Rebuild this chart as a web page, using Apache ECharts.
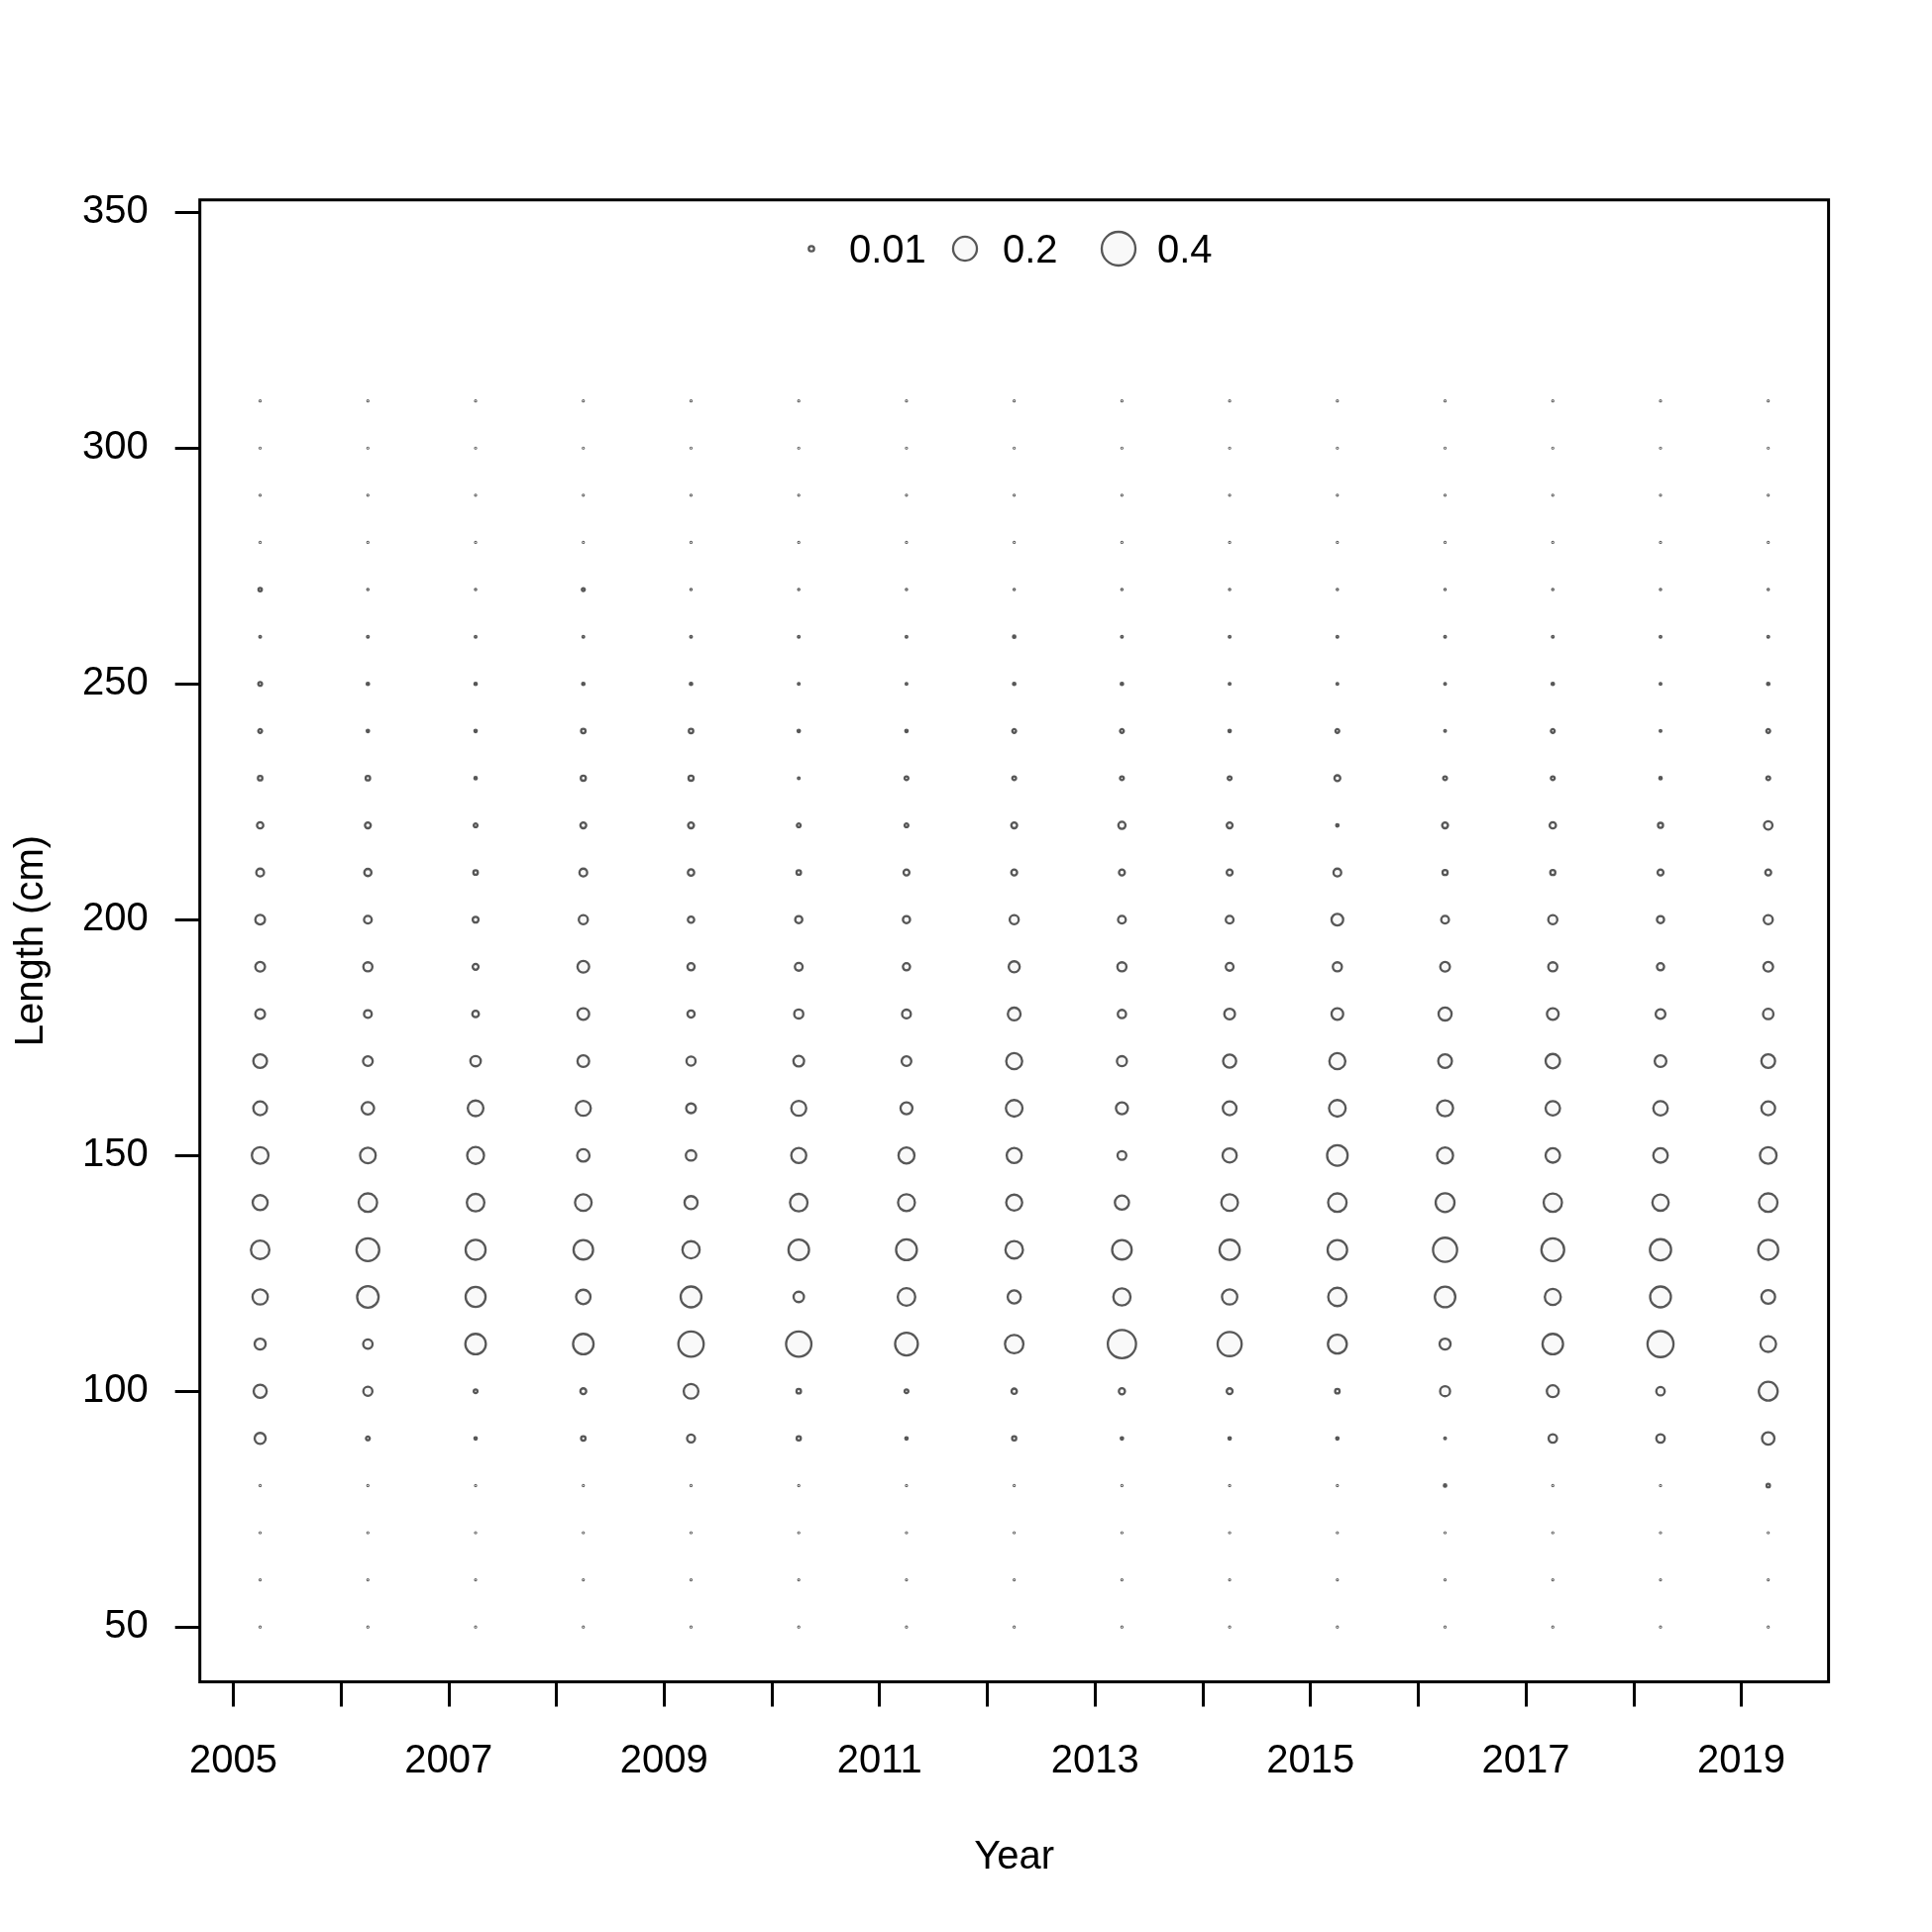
<!DOCTYPE html>
<html>
<head>
<meta charset="utf-8">
<script src="https://cdn.jsdelivr.net/npm/echarts@6/dist/echarts.min.js"></script>
<style>
  html, body { margin: 0; padding: 0; background: #ffffff; }
  #chart { width: 1950px; height: 1950px; }
</style>
</head>
<body>
<div id="chart"></div>
<script>
// ---------------- DATA ----------------
var years = [2005, 2006, 2007, 2008, 2009, 2010, 2011, 2012, 2013, 2014, 2015, 2016, 2017, 2018, 2019];
var yearOffset = 0.25; // points are plotted at mid-year of each sample year
var lengths = [50, 60, 70, 80, 90, 100, 110, 120, 130, 140, 150, 160, 170, 180, 190, 200, 210, 220, 230, 240, 250, 260, 270, 280, 290, 300, 310];
var xTicks = [2005, 2006, 2007, 2008, 2009, 2010, 2011, 2012, 2013, 2014, 2015, 2016, 2017, 2018, 2019];
var xLabels = [2005, 2007, 2009, 2011, 2013, 2015, 2017, 2019];
var yTicks = [50, 100, 150, 200, 250, 300, 350];
var legendValues = [0.01, 0.2, 0.4];

// proportions by length bin (50 ... 310), one array per year
var p2005 = [0.0003, 0.0003, 0.0003, 0.0003, 0.043, 0.060, 0.043, 0.082, 0.120, 0.079, 0.097, 0.066, 0.066, 0.033, 0.033, 0.033, 0.021, 0.014, 0.007, 0.005, 0.005, 0.001, 0.004, 0.0003, 0.0003, 0.0003, 0.0003];
var p2006 = [0.0003, 0.0003, 0.0003, 0.0003, 0.005, 0.029, 0.031, 0.162, 0.182, 0.120, 0.086, 0.054, 0.033, 0.021, 0.029, 0.021, 0.018, 0.012, 0.007, 0.002, 0.002, 0.001, 0.0005, 0.0003, 0.0003, 0.0003, 0.0003];
var p2007 = [0.0003, 0.0003, 0.0003, 0.0003, 0.002, 0.005, 0.148, 0.140, 0.140, 0.108, 0.100, 0.086, 0.038, 0.015, 0.012, 0.012, 0.007, 0.005, 0.002, 0.002, 0.002, 0.001, 0.0005, 0.0003, 0.0003, 0.0003, 0.0003];
var p2008 = [0.0003, 0.0003, 0.0003, 0.0003, 0.007, 0.012, 0.148, 0.073, 0.134, 0.097, 0.054, 0.079, 0.048, 0.048, 0.048, 0.029, 0.021, 0.012, 0.009, 0.007, 0.002, 0.001, 0.003, 0.0003, 0.0003, 0.0003, 0.0003];
var p2009 = [0.0003, 0.0003, 0.0003, 0.0003, 0.022, 0.076, 0.226, 0.152, 0.104, 0.060, 0.038, 0.033, 0.029, 0.018, 0.018, 0.014, 0.014, 0.012, 0.009, 0.007, 0.002, 0.001, 0.0005, 0.0003, 0.0003, 0.0003, 0.0003];
var p2010 = [0.0003, 0.0003, 0.0003, 0.0003, 0.006, 0.007, 0.226, 0.038, 0.148, 0.108, 0.079, 0.079, 0.040, 0.029, 0.021, 0.018, 0.007, 0.005, 0.001, 0.002, 0.001, 0.001, 0.0005, 0.0003, 0.0003, 0.0003, 0.0003];
var p2011 = [0.0003, 0.0003, 0.0003, 0.0003, 0.002, 0.005, 0.182, 0.108, 0.152, 0.100, 0.090, 0.050, 0.033, 0.027, 0.018, 0.018, 0.012, 0.005, 0.005, 0.002, 0.001, 0.001, 0.0005, 0.0003, 0.0003, 0.0003, 0.0003];
var p2012 = [0.0003, 0.0003, 0.0003, 0.0003, 0.006, 0.010, 0.120, 0.060, 0.108, 0.090, 0.079, 0.097, 0.090, 0.057, 0.043, 0.029, 0.012, 0.012, 0.005, 0.005, 0.002, 0.002, 0.0005, 0.0003, 0.0003, 0.0003, 0.0003];
var p2013 = [0.0003, 0.0003, 0.0003, 0.0003, 0.002, 0.013, 0.280, 0.104, 0.134, 0.070, 0.027, 0.050, 0.035, 0.024, 0.029, 0.021, 0.012, 0.018, 0.005, 0.005, 0.002, 0.001, 0.0005, 0.0003, 0.0003, 0.0003, 0.0003];
var p2014 = [0.0003, 0.0003, 0.0003, 0.0003, 0.002, 0.012, 0.204, 0.082, 0.143, 0.097, 0.070, 0.066, 0.060, 0.040, 0.021, 0.021, 0.012, 0.012, 0.005, 0.002, 0.001, 0.001, 0.0005, 0.0003, 0.0003, 0.0003, 0.0003];
var p2015 = [0.0003, 0.0003, 0.0003, 0.0003, 0.002, 0.007, 0.125, 0.118, 0.134, 0.120, 0.148, 0.097, 0.090, 0.048, 0.029, 0.048, 0.021, 0.002, 0.012, 0.005, 0.001, 0.001, 0.0005, 0.0003, 0.0003, 0.0003, 0.0003];
var p2016 = [0.0003, 0.0003, 0.0003, 0.002, 0.001, 0.035, 0.043, 0.148, 0.204, 0.125, 0.090, 0.090, 0.066, 0.060, 0.033, 0.021, 0.009, 0.012, 0.005, 0.001, 0.001, 0.001, 0.0005, 0.0003, 0.0003, 0.0003, 0.0003];
var p2017 = [0.0003, 0.0003, 0.0003, 0.0003, 0.025, 0.050, 0.148, 0.090, 0.182, 0.118, 0.073, 0.073, 0.073, 0.048, 0.029, 0.029, 0.009, 0.014, 0.005, 0.005, 0.002, 0.001, 0.0005, 0.0003, 0.0003, 0.0003, 0.0003];
var p2018 = [0.0003, 0.0003, 0.0003, 0.0003, 0.025, 0.025, 0.238, 0.152, 0.157, 0.093, 0.073, 0.073, 0.048, 0.033, 0.018, 0.018, 0.012, 0.009, 0.002, 0.001, 0.001, 0.001, 0.0005, 0.0003, 0.0003, 0.0003, 0.0003];
var p2019 = [0.0003, 0.0003, 0.0003, 0.004, 0.054, 0.125, 0.086, 0.066, 0.140, 0.120, 0.097, 0.066, 0.066, 0.038, 0.033, 0.029, 0.012, 0.025, 0.005, 0.005, 0.002, 0.001, 0.0005, 0.0003, 0.0003, 0.0003, 0.0003];

var proportions = [p2005, p2006, p2007, p2008, p2009, p2010, p2011, p2012, p2013, p2014, p2015, p2016, p2017, p2018, p2019];

// ---------------- CHART ----------------
var SIZE_K = 53.8; // symbol diameter per sqrt(proportion)
function bubbleSize(v) { return SIZE_K * Math.sqrt(v); }

var points = [];
for (var i = 0; i < years.length; i++) {
  for (var j = 0; j < lengths.length; j++) {
    points.push([years[i] + yearOffset, lengths[j], proportions[i][j]]);
  }
}

var FONT = '"Liberation Sans", Arial, sans-serif';
var STROKE = '#575757';
var FILL = '#f9f9f9';

var chart = echarts.init(document.getElementById('chart'), null, { renderer: 'canvas' });

// legend (drawn as graphic circles sized by the same rule)
var legendX = [819, 974, 1129];
var legendTextX = [857, 1012, 1168];
var legendY = 251;
var legendGraphics = [];
for (var k = 0; k < legendValues.length; k++) {
  legendGraphics.push({
    type: 'circle',
    shape: { cx: legendX[k], cy: legendY, r: bubbleSize(legendValues[k]) / 2 },
    style: { fill: FILL, stroke: STROKE, lineWidth: 2.3 },
    z: 10
  });
  legendGraphics.push({
    type: 'text',
    x: legendTextX[k],
    y: legendY + 3,
    style: { text: String(legendValues[k]), fill: '#000', font: '40px ' + FONT, textAlign: 'left', textVerticalAlign: 'middle' },
    z: 10
  });
}

var option = {
  backgroundColor: '#ffffff',
  animation: false,
  grid: {
    left: 201.7, top: 201.7, right: 104.4, bottom: 252.4,
    show: true, borderColor: '#000', borderWidth: 3, backgroundColor: 'transparent'
  },
  xAxis: {
    type: 'value',
    min: 2004.69, max: 2019.81,
    name: 'Year', nameLocation: 'middle', nameGap: 157,
    nameTextStyle: { color: '#000', fontSize: 40, fontFamily: FONT },
    axisLine: { show: false },
    splitLine: { show: false },
    axisTick: { show: true, length: 25, inside: false, customValues: xTicks, lineStyle: { color: '#000', width: 3 } },
    axisLabel: { customValues: xLabels, margin: 60, color: '#000', fontSize: 40, fontFamily: FONT,
      formatter: function (v) { return String(v); } }
  },
  yAxis: {
    type: 'value',
    min: 38.36, max: 352.64,
    name: 'Length (cm)', nameLocation: 'middle', nameGap: 150, nameRotate: 90,
    nameTextStyle: { color: '#000', fontSize: 40, fontFamily: FONT },
    axisLine: { show: false },
    splitLine: { show: false },
    axisTick: { show: true, length: 25, inside: false, customValues: yTicks, lineStyle: { color: '#000', width: 3 } },
    axisLabel: { customValues: yTicks, margin: 52, color: '#000', fontSize: 40, fontFamily: FONT,
      padding: [10, 0, 0, 0],
      formatter: function (v) { return String(v); } }
  },
  series: [{
    type: 'scatter',
    data: points,
    symbol: 'circle',
    symbolSize: function (val) { return bubbleSize(val[2]); },
    itemStyle: { color: FILL, borderColor: STROKE, borderWidth: 2.3, opacity: 1 },
    emphasis: { disabled: true }
  }],
  graphic: legendGraphics
};

chart.setOption(option);
</script>
</body>
</html>
